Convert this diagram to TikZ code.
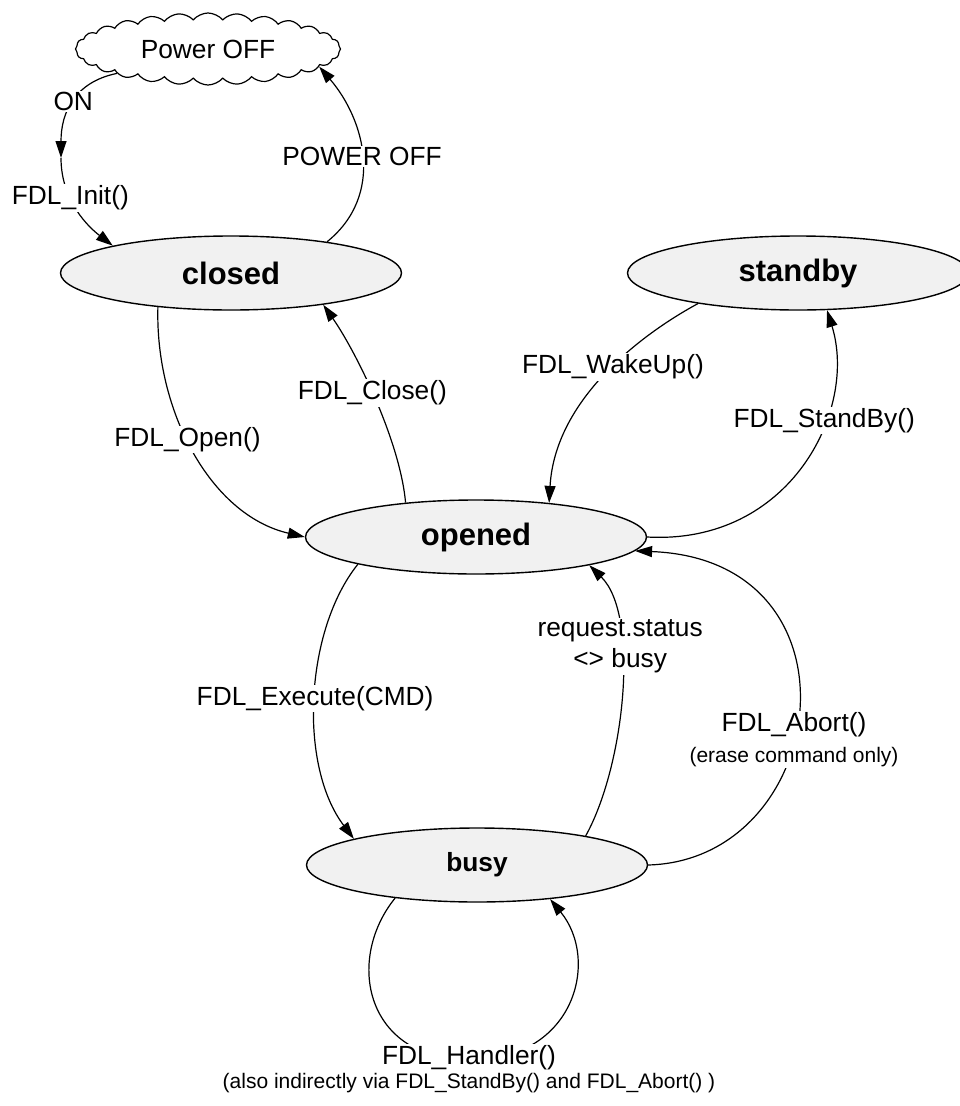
\documentclass[tikz,border=0pt]{standalone}
\usepackage{fontspec}
\setmainfont{Liberation Sans}
\usetikzlibrary{shapes.geometric,shapes.symbols,arrows.meta}
\definecolor{stfill}{RGB}{241,241,241}
\begin{document}
\begin{tikzpicture}[x=1pt,y=-1pt,
  state/.style={ellipse, draw, line width=1.4pt, fill=stfill, minimum width=341pt, minimum height=74pt, inner sep=0pt, font=\bfseries\fontsize{31}{36}\selectfont},
  tr/.style={line width=1.2pt, -{Triangle[length=17pt,width=11pt]}},
  lbl/.style={fill=white, inner sep=1.5pt, font=\fontsize{26.3}{31}\selectfont, align=center},
  note/.style={font=\fontsize{21}{25}\selectfont}]
\useasboundingbox (0,0) rectangle (959,1106);
\node[cloud, draw, line width=1.2pt, fill=white, cloud puffs=28, cloud puff arc=100, cloud ignores aspect, minimum width=265pt, minimum height=72pt, inner sep=0pt, font=\fontsize{26.3}{31}\selectfont] (pwr) at (208,49) {Power OFF};
\node[state] (closed) at (231,273) {closed};
\node[state] (standby) at (798,273) {standby};
\node[state] (opened) at (476,537) {opened};
\node[state, font=\bfseries\fontsize{26.3}{31}\selectfont] (busy) at (477,865) {busy};
\coordinate (onpt) at (61,158);
\coordinate (lpbot) at (470,1060);

\draw[tr] (pwr.195) .. controls (75,82) and (61,112) .. node[lbl,pos=0.5]{ON} (onpt);
\draw[tr] (onpt) .. controls (61,195) and (82,222) .. node[lbl,pos=0.4]{FDL\_Init()} (closed.167);
\draw[tr] (closed.18) .. controls (385,195) and (365,120) .. node[lbl,pos=0.5]{POWER OFF} (pwr.-9);
\draw[tr] (closed.-155) .. controls (155,410) and (210,515) .. node[lbl,pos=0.45]{FDL\_Open()} (opened.180);
\draw[tr] (opened.154) .. controls (400,440) and (355,350) .. node[lbl,pos=0.52]{FDL\_Close()} (closed.-19);
\draw[tr] (standby.-163) .. controls (640,335) and (555,400) .. node[lbl,pos=0.45]{FDL\_WakeUp()} (opened.25);
\draw[tr] (opened.0) .. controls (790,545) and (858,410) .. node[lbl,pos=0.65]{FDL\_StandBy()} (standby.-52);
\draw[tr] (opened.-167) .. controls (305,630) and (298,765) .. node[lbl,pos=0.5]{FDL\_Execute(CMD)} (busy.168);
\draw[tr] (busy.15.5) .. controls (625,765) and (640,615) .. node[lbl,pos=0.65]{request.status\\<> busy} (opened.-14);
\draw[tr] (busy.0) .. controls (830,860) and (870,560) .. node[lbl,pos=0.435]{FDL\_Abort()\\{\fontsize{21}{25}\selectfont (erase command only)}} (opened.-5);
\draw[tr] (busy.-158) .. controls (345,960) and (365,1060) .. (lpbot) .. controls (575,1060) and (600,960) .. (busy.-25);
\node[lbl] (hlbl) at (469,1058) {FDL\_Handler()};
\node[note] (hnote) at (469,1083) {(also indirectly via FDL\_StandBy() and FDL\_Abort() )};
\end{tikzpicture}
\end{document}
